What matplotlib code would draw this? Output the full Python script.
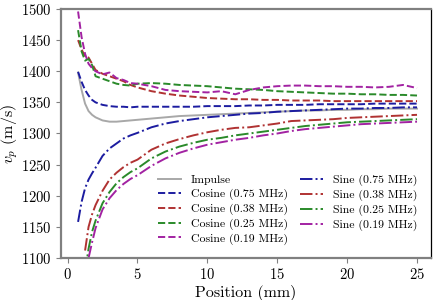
import numpy as np
import matplotlib
matplotlib.use("Agg")
import matplotlib.pyplot as plt

plt.rcParams['font.family'] = 'serif'
plt.rcParams['font.serif'] = ['cmr10', 'DejaVu Serif']
plt.rcParams['mathtext.fontset'] = 'cm'
plt.rcParams['axes.formatter.use_mathtext'] = True

nan = np.nan
position = [0.75, 1.0, 1.25, 1.5, 1.75, 2.0, 2.5, 3.0, 3.5, 4.0, 4.5, 5.0, 6.0, 7.0, 8.0, 9.0,
            10.0, 11.0, 12.0, 13.0, 14.0, 15.0, 16.0, 17.0, 18.0, 19.0, 20.0, 21.0, 22.0, 23.0, 24.0, 25.0]

impulse = [1398, 1370, 1348, 1336, 1330, 1326, 1321, 1319, 1319, 1320, 1321, 1322, 1324, 1326, 1328, 1329,
           1330, 1331, 1332, 1333, 1334, 1335, 1336, 1337, 1337, 1338, 1338, 1339, 1339, 1340, 1340, 1340]

cos_075 = [1399, 1383, 1370, 1361, 1354, 1350, 1346, 1344, 1343, 1343, 1342, 1343, 1343, 1343, 1343, 1343,
           1344, 1344, 1344, 1345, 1345, 1346, 1346, 1346, 1347, 1347, 1347, 1347, 1348, 1348, 1348, 1348]
cos_038 = [1450, 1435, 1424, 1422, 1412, 1402, 1396, 1392, 1388, 1384, 1378, 1374, 1368, 1364, 1361, 1359,
           1357, 1356, 1355, 1355, 1354, 1354, 1353, 1353, 1353, 1352, 1352, 1352, 1352, 1352, 1352, 1352]
cos_025 = [1466, 1432, 1417, 1420, 1410, 1392, 1388, 1384, 1380, 1378, 1377, 1380, 1381, 1380, 1378, 1377,
           1376, 1374, 1372, 1371, 1370, 1368, 1367, 1366, 1365, 1364, 1364, 1363, 1363, 1362, 1362, 1361]
cos_019 = [1496, 1455, 1428, 1412, 1405, 1400, 1395, 1398, 1389, 1386, 1381, 1380, 1376, 1370, 1368, 1367,
           1366, 1368, 1363, 1370, 1374, 1376, 1377, 1377, 1376, 1376, 1375, 1375, 1374, 1375, 1378, 1373]

sin_075 = [1158, 1190, 1212, 1226, 1236, 1245, 1264, 1276, 1284, 1292, 1297, 1301, 1310, 1316, 1320, 1323,
           1326, 1328, 1330, 1332, 1333, 1335, 1336, 1337, 1338, 1339, 1340, 1340, 1341, 1341, 1342, 1342]
sin_038 = [nan, nan, 1112, 1150, 1170, 1185, 1208, 1226, 1237, 1246, 1253, 1258, 1274, 1284, 1291, 1297,
           1302, 1306, 1309, 1310, 1313, 1316, 1320, 1321, 1322, 1323, 1325, 1326, 1327, 1328, 1329, 1330]
sin_025 = [nan, nan, 1078, 1115, 1142, 1160, 1188, 1206, 1220, 1230, 1238, 1244, 1260, 1271, 1279, 1285,
           1290, 1293, 1297, 1300, 1303, 1306, 1309, 1312, 1314, 1316, 1318, 1319, 1320, 1321, 1322, 1323]
sin_019 = [nan, nan, nan, 1100, 1125, 1148, 1178, 1196, 1209, 1219, 1227, 1233, 1248, 1260, 1269, 1276,
           1282, 1286, 1290, 1293, 1297, 1300, 1304, 1307, 1309, 1311, 1313, 1315, 1316, 1317, 1318, 1319]

labels_cos = ["Cosine (0.75 MHz)", "Cosine (0.38 MHz)", "Cosine (0.25 MHz)", "Cosine (0.19 MHz)"]
labels_sin = ["Sine (0.75 MHz)", "Sine (0.38 MHz)", "Sine (0.25 MHz)", "Sine (0.19 MHz)"]
colors = ['#1c1ca0', '#b03232', '#2a8a2a', '#a222a2']

fig = plt.figure(figsize=(4.36, 3.0), dpi=100)
ax = fig.add_axes([0.139, 0.14, 0.8495, 0.83])

lw = 1.4
ax.plot(position, impulse, color='#a8a8a8', lw=lw, ls='-', label='Impulse')
for ys, lab, c in zip([cos_075, cos_038, cos_025, cos_019], labels_cos, colors):
    ax.plot(position, ys, color=c, lw=lw, ls='--', label=lab)
for ys, lab, c in zip([sin_075, sin_038, sin_025, sin_019], labels_sin, colors):
    ax.plot(position, ys, color=c, lw=lw, ls='-.', label=lab)

ax.set_xlim(-0.5, 26)
ax.set_ylim(1100, 1500)
ax.set_xticks([0, 5, 10, 15, 20, 25])
ax.set_yticks(np.arange(1100, 1501, 50))
ax.tick_params(labelsize=10.5, color='#808080', length=3.5, pad=3)

for s in ['left', 'top', 'bottom']:
    ax.spines[s].set_color('#808080')
    ax.spines[s].set_linewidth(1.6)
ax.spines['right'].set_color('black')
ax.spines['right'].set_linewidth(0.9)

ax.set_xlabel('Position (mm)', fontsize=11.5, labelpad=2)
ax.set_ylabel('$v_p$ (m/s)', fontsize=11.5, labelpad=1)

ax.legend(ncol=2, loc='lower right', bbox_to_anchor=(0.985, 0.02), frameon=False, fontsize=8.5,
          labelspacing=0.3, columnspacing=1.0, handlelength=2.0, handletextpad=0.8, borderpad=0.2)

fig.savefig('out.png', dpi=100)
